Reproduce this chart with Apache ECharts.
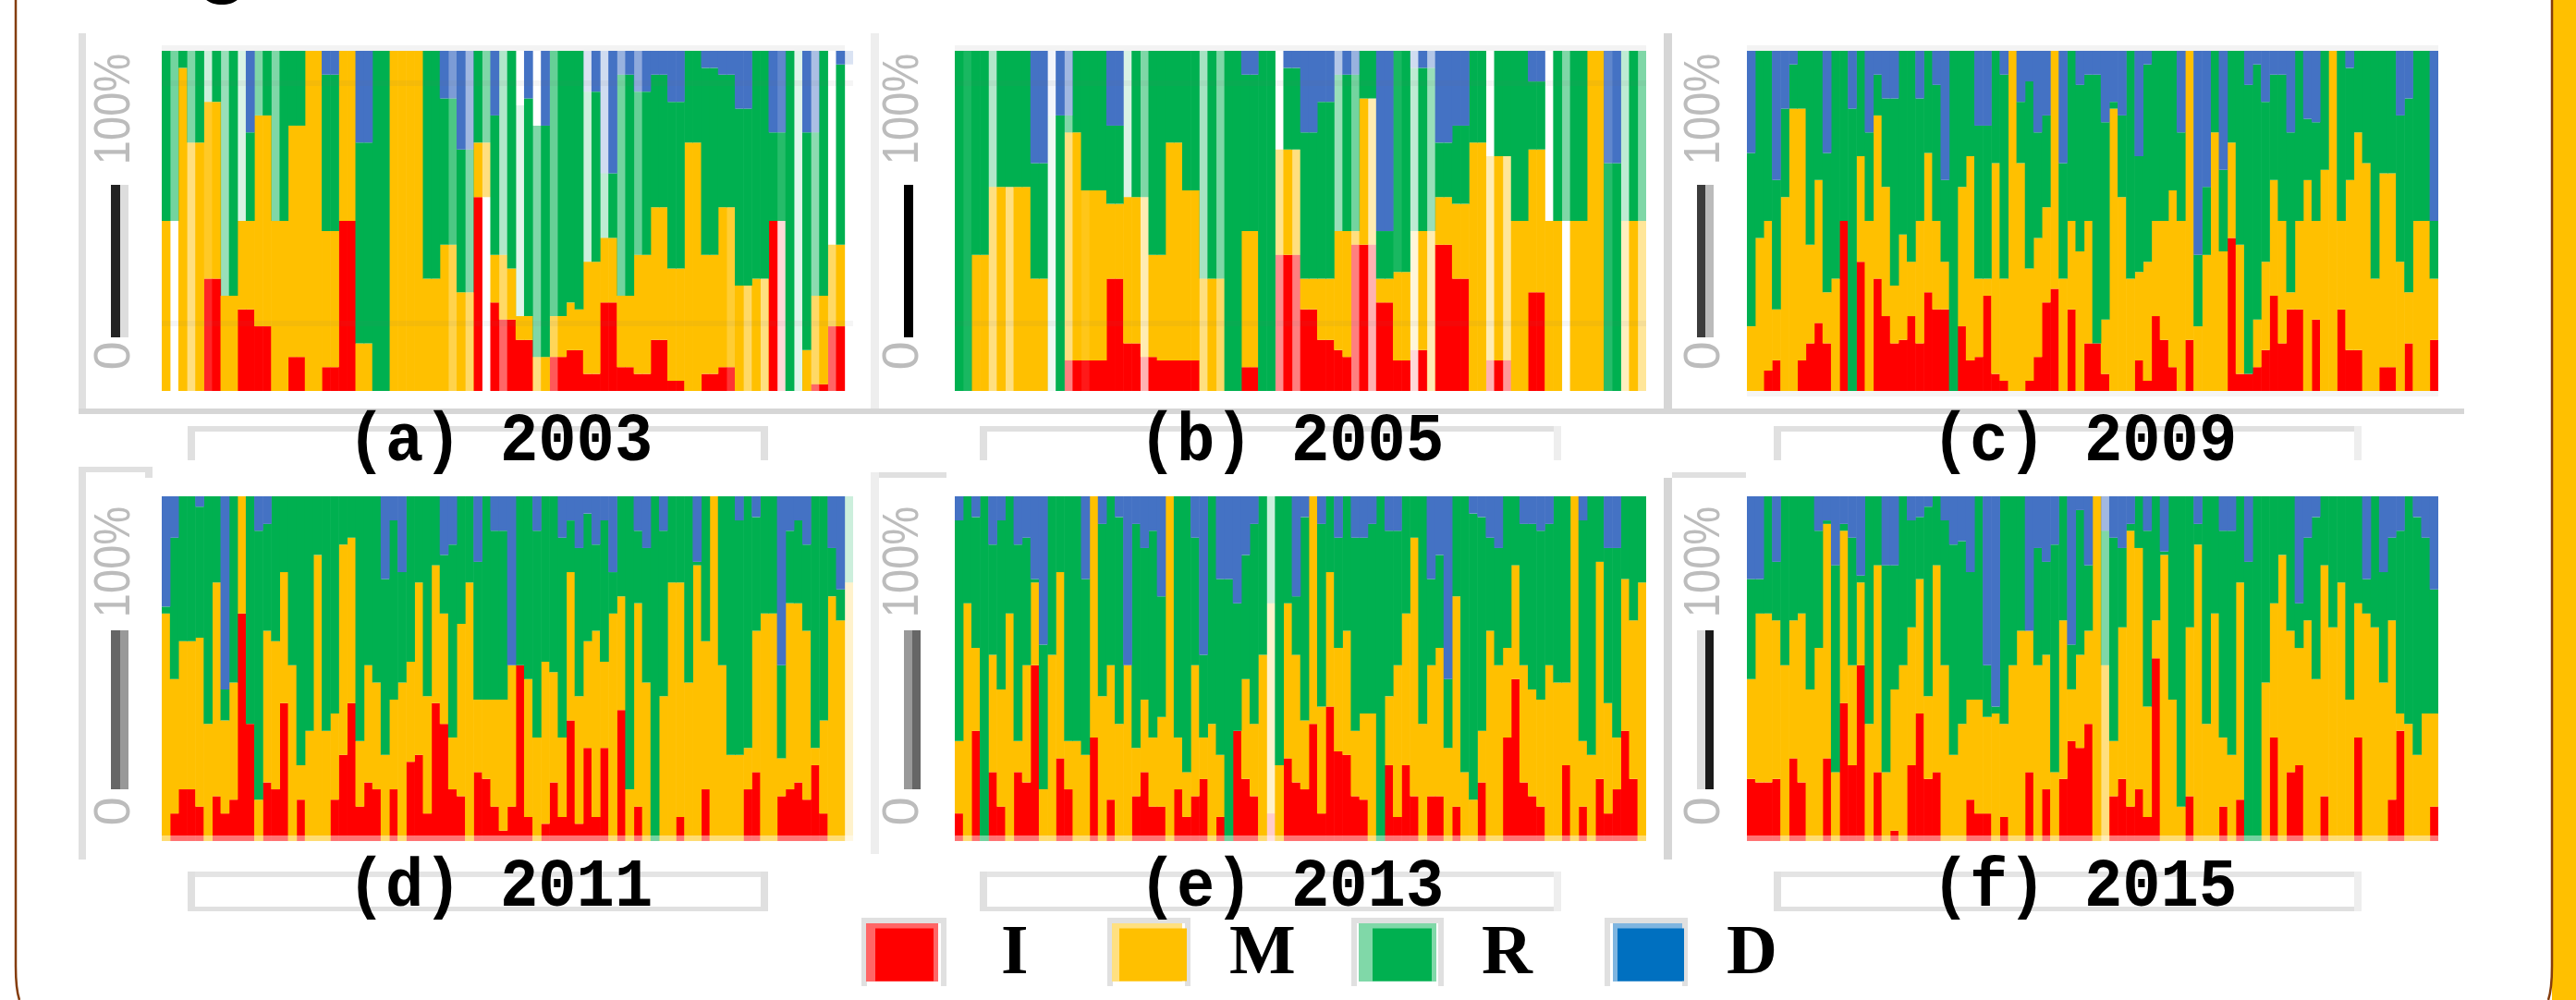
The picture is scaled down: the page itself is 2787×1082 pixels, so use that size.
<!DOCTYPE html>
<html><head><meta charset="utf-8">
<script src="https://cdn.jsdelivr.net/npm/echarts@6/dist/echarts.min.js"></script>
<style>html,body{margin:0;padding:0;background:#fff}#c{width:2787px;height:1082px}</style>
</head><body><div id="c"></div>
<script>
// Cumulative tops (percent) of the I, M and R layers per column; D fills the remainder.
const iTop2003=[0,0,0,0,0,33,33,0,0,24, 24,19,19,0,0,10,10,0,0,7, 7,50,50,0,0,0,0,0,0,0, 0,0,0,0,0,0,0,57,0,26, 21,21,15,15,0,0,10,10,12,12, 5,5,26,26,7,7,5,5,15,15, 3,3,0,0,5,5,7,7,0,0, 0,0,50,50,0,0,0,2,2,19, 19,0];
const mTop2003=[50,0,95,73,73,85,85,28,28,50, 50,81,81,50,50,78,78,100,100,47, 47,100,100,14,14,0,0,100,100,100, 100,33,33,43,43,29,29,73,73,40, 40,36,22,22,10,10,22,22,26,24, 38,38,45,45,28,28,40,40,54,54, 36,36,73,73,40,40,54,54,31,31, 33,33,50,50,0,0,12,28,28,43, 43,0];
const rTop2003=[100,100,100,100,100,100,100,100,100,100, 76,100,100,100,100,100,100,100,100,93, 93,100,100,73,73,100,100,100,100,100, 100,100,100,86,86,71,71,100,100,81, 100,100,84,86,78,78,100,100,100,100, 88,88,64,64,93,93,88,88,93,93, 85,85,100,100,95,95,93,93,83,83, 100,100,76,76,100,100,76,76,100,43, 96,0];
const iTop2005=[0,0,0,0,0,0,0,0,0,0, 0,0,0,9,9,9,9,9,33,33, 14,14,10,10,9,9,9,9,9,0, 0,0,0,0,7,7,0,0,40,40, 40,24,24,15,15,12,10,43,43,43, 26,26,9,9,12,12,0,43,43,33, 33,0,0,9,9,9,0,0,29,29, 0,0,0,0,0,0,0,0,0,0, 0,0];
const mTop2005=[0,0,40,40,60,60,60,60,60,33, 33,0,0,76,76,59,59,59,55,55, 57,57,57,40,40,73,73,59,59,33, 33,33,0,0,47,47,0,0,71,71, 71,33,33,33,33,47,47,47,86,86, 33,33,35,35,47,47,47,57,57,55, 55,73,73,69,69,69,50,50,71,71, 50,50,50,50,50,100,100,0,0,50, 50,50];
const rTop2005=[100,100,100,100,100,100,100,100,100,67, 67,81,81,81,100,100,100,100,78,78, 100,100,100,100,100,100,100,100,100,100, 100,100,100,100,93,93,100,100,71,95, 95,76,76,85,85,93,93,93,100,100, 47,47,100,100,95,95,95,73,73,78, 78,100,100,69,100,100,100,100,91,91, 50,100,100,100,100,100,100,67,67,100, 100,100];
const iTop2009=[0,0,6,9,0,0,9,14,20,14, 0,50,0,38,0,33,22,14,15,22, 14,29,24,24,0,19,9,10,28,5, 3,0,0,3,10,26,30,0,24,0, 14,14,5,0,0,0,9,3,22,15, 7,0,15,0,0,0,0,45,5,5, 7,12,28,14,24,24,0,21,0,0, 24,12,12,0,0,7,7,0,14,0, 0,15];
const mTop2009=[19,45,50,24,57,83,83,43,62,29, 33,50,0,69,50,81,60,31,46,38, 50,70,50,38,0,60,69,33,33,67, 33,100,67,36,45,54,100,33,50,41, 50,14,21,83,57,33,35,38,50,50, 59,50,100,19,40,76,41,73,43,5, 21,38,62,50,29,50,62,50,65,100, 50,62,76,67,33,64,64,38,29,50, 50,33];
const rTop2009=[70,100,100,62,83,96,100,100,100,70, 100,100,83,100,76,93,86,86,100,100, 86,100,90,62,100,100,100,78,78,100, 93,100,85,91,76,81,100,67,100,90, 93,93,79,85,81,100,69,96,100,100, 100,76,100,40,60,100,65,100,100,90, 96,85,93,93,76,100,80,79,100,100, 100,95,100,100,100,100,100,81,86,100, 100,50];
const iTop2011=[0,8,15,15,10,0,13,8,12,66, 34,0,17,15,40,0,12,0,0,0, 12,25,40,10,17,15,0,15,0,23, 25,8,40,34,15,13,0,20,18,10, 3,10,51,7,0,5,17,7,35,5, 27,7,27,0,38,0,10,0,0,0, 0,7,0,0,15,0,0,0,0,15, 20,0,0,13,15,17,12,22,8,0, 0,0];
const mTop2011=[66,47,58,58,59,34,75,35,46,100, 34,12,61,58,78,51,22,32,83,32, 37,86,88,29,51,46,25,41,46,52, 75,42,80,66,30,63,75,41,41,41, 41,51,51,47,30,52,49,30,78,42, 58,61,52,66,71,15,69,46,0,42, 75,75,46,80,58,100,51,25,25,27, 61,66,66,24,69,69,61,27,35,71, 64,75];
const rTop2011=[68,88,100,100,97,100,100,44,100,100, 100,90,92,100,100,100,100,100,100,100, 100,100,100,100,100,100,76,93,78,100, 100,100,100,83,86,100,100,81,100,90, 90,51,100,100,90,100,100,88,93,85, 95,86,93,78,100,100,90,85,100,90, 100,100,100,81,100,100,100,100,93,100, 94,100,100,51,90,93,86,100,100,85, 73,100];
const iTop2013=[8,0,32,0,20,10,0,20,17,51, 0,0,24,15,0,0,30,0,12,0, 0,13,20,10,10,0,15,7,13,18, 0,7,0,32,18,13,0,8,0,24, 17,15,34,8,39,26,25,13,12,0, 0,22,7,22,13,0,13,13,0,10, 0,0,17,0,0,30,47,17,13,10, 0,0,22,0,10,0,18,8,15,32, 18,0];
const mTop2013=[29,69,56,0,54,44,66,29,51,75, 15,54,78,29,29,25,100,42,51,34, 51,27,41,30,36,100,30,20,51,30, 34,25,0,32,47,34,54,69,22,69, 54,35,100,39,78,56,61,32,37,37, 0,42,51,66,88,34,51,56,27,71, 20,12,32,61,51,56,80,51,44,41, 51,46,46,100,29,25,81,40,30,76, 64,75];
const rTop2013=[93,100,94,100,86,93,100,86,88,76, 57,100,100,100,100,76,100,92,100,94, 51,92,85,90,71,100,100,100,88,54, 100,76,76,69,83,92,100,100,100,100, 71,94,100,92,100,88,100,88,88,92, 100,90,90,100,100,100,76,83,47,100, 100,95,94,88,85,100,100,92,92,90, 92,100,100,100,93,100,100,85,85,100, 100,100];
const iTop2015=[18,17,17,18,0,24,17,0,0,24, 0,40,22,51,0,20,0,3,0,22, 37,18,20,0,0,0,12,8,8,0, 7,0,0,20,0,15,0,18,29,27, 34,0,0,13,18,10,15,7,53,0, 0,0,13,0,0,0,10,0,12,0, 0,0,30,0,20,22,0,0,13,0, 0,0,30,0,0,0,12,32,0,0, 0,10];
const mTop2015=[47,66,66,64,51,64,66,44,56,92, 20,90,51,75,34,80,20,44,51,62, 76,42,80,51,25,34,41,41,36,37, 34,51,61,61,51,54,20,64,44,54, 61,100,51,29,62,90,85,39,64,83, 41,10,62,86,34,66,30,25,75,0, 0,46,69,83,61,56,64,47,80,62, 75,41,69,66,62,46,64,37,34,25, 37,37];
const rTop2015=[76,76,100,81,100,100,100,100,90,93, 80,92,88,77,100,100,80,80,100,93, 94,97,100,93,86,87,78,100,51,39, 100,100,100,61,85,81,86,100,57,96, 80,100,90,88,85,92,100,90,100,84, 100,100,100,92,100,100,90,90,100,81, 100,100,100,100,100,69,88,94,100,100, 100,100,100,76,100,78,88,90,100,94, 88,73];

// Columns with partial coverage in the source: share of empty space below / above, and coverage of the layers.
const floor2003={1:50,38:57,81:96}, floor2005={72:50};
const ceil2003={42:84,44:78,79:43}, ceil2005={38:71,63:69,70:50};
const upper2003={1:.55,3:.5,5:.2,7:.4,9:.15,11:.5,13:.5,34:.7,36:.5,38:.5,40:.3,42:.12,44:.5,46:.6,50:.2,52:.25,54:.55,56:.6,73:.85,75:.12,77:.45,81:.2};
const lower2003={3:.5,5:.85,34:.7,36:.6,38:.5,40:.6,44:.5,46:.65,67:.8,69:.6,71:.5,73:.15,77:.6,79:.6};
const upper2005={1:.9,4:.3,11:.07,13:.5,20:.15,22:.5,29:.35,31:.5,45:.4,47:.55,52:.9,54:.25,56:.4,70:.1,72:.5,77:.85,79:.25,81:.5};
const lower2005={4:.5,6:.5,13:.5,15:.9,22:.3,29:.5,31:.6,38:.45,40:.5,47:.5,49:.3,54:.15,56:.3,63:.3,65:.4,79:.25,81:.4};
const upper2011={81:.2},lower2011={81:.2},upper2013={37:.2},lower2013={37:.2},upper2015={42:.5},lower2015={42:.5};

const panelTitles=['(a) 2003','(b) 2005','(c) 2009','(d) 2011','(e) 2013','(f) 2015'];
const seriesNames=['I','M','R','D'];
const seriesColors=['#FF0000','#FFC000','#00B050','#4472C4'];
const legendColors=['#FF0000','#FFC000','#00B050','#0070C0'];
const yTickLabels=['100%','0'];

const panels=[
 {i:iTop2003,m:mTop2003,r:rTop2003,floor:floor2003,ceil:ceil2003,up:upper2003,lo:lower2003},
 {i:iTop2005,m:mTop2005,r:rTop2005,floor:floor2005,ceil:ceil2005,up:upper2005,lo:lower2005},
 {i:iTop2009,m:mTop2009,r:rTop2009},
 {i:iTop2011,m:mTop2011,r:rTop2011,up:upper2011,lo:lower2011},
 {i:iTop2013,m:mTop2013,r:rTop2013,up:upper2013,lo:lower2013},
 {i:iTop2015,m:mTop2015,r:rTop2015,up:upper2015,lo:lower2015}
];
const gridLeft=[175,1033,1890], rowTop=[55,537], rowH=[368,373], gridW=748;

const grids=[],xAxes=[],yAxes=[],series=[];
panels.forEach((p,k)=>{
  const row=k<3?0:1;
  grids.push({left:gridLeft[k%3],top:rowTop[row],width:gridW,height:rowH[row]});
  xAxes.push({type:'category',gridIndex:k,show:false,data:p.i.map((_,n)=>n+1)});
  yAxes.push({type:'value',gridIndex:k,show:false,min:0,max:100,interval:100});
  const fl=p.floor||{},ce=p.ceil||{},up=p.up||{},lo=p.lo||{};
  const layer=(fn,map)=>p.i.map((_,n)=>{
    const f=fl[n]||0,v=Math.max(0,fn(n,f));
    return map[n]===undefined?v:{value:v,itemStyle:{opacity:map[n]}};
  });
  const blank=p.i.map((_,n)=>fl[n]||0);
  const add=(name,data,color)=>series.push({name,type:'bar',stack:'s'+k,xAxisIndex:k,yAxisIndex:k,data,barWidth:9.7,
    silent:true,itemStyle:{color,borderWidth:0},animation:false});
  add('blank',blank,'rgba(0,0,0,0)');
  add('I',layer((n,f)=>p.i[n]-f,lo),seriesColors[0]);
  add('M',layer((n,f)=>p.m[n]-Math.max(p.i[n],f),lo),seriesColors[1]);
  add('R',layer((n,f)=>p.r[n]-Math.max(p.m[n],f),up),seriesColors[2]);
  add('D',layer((n,f)=>(ce[n]||100)-Math.max(p.r[n],f),up),seriesColors[3]);
});

const legendLeft=[942,1206,1480,1745],legendPad=[68,41,49,41],legendW=[63,73,64,72];
const legends=seriesNames.map((n,k)=>({left:legendLeft[k],top:990,orient:'horizontal',itemWidth:legendW[k],itemHeight:57,
  selectedMode:false,data:[{name:n,icon:'rect',itemStyle:{color:legendColors[k]}}],
  textStyle:{fontFamily:'Liberation Serif',fontWeight:'bold',fontSize:76,color:'#000',padding:[0,0,0,legendPad[k]]}}));

const G=[];
const rect=(x0,y0,x1,y1,fill,z)=>G.push({type:'rect',z:z||1,silent:true,shape:{x:x0,y:y0,width:x1-x0,height:y1-y0},style:{fill}});
const axisGrey='#d6d6d6',pale='#e0e0e0';
// frames
rect(85,36,93,448,pale);rect(942,36,951,448,'#eeeeee');rect(1800,36,1809,448,axisGrey);rect(85,442,2666,448,axisGrey);
rect(85,505,93,930,pale);rect(85,505,165,511,pale);rect(157,505,165,517,pale);
rect(942,511,951,924,'#eeeeee');rect(951,511,1024,517,pale);
rect(1800,517,1809,930,axisGrey);rect(1809,511,1889,517,pale);
// caption boxes
const boxL=[203,1060,1919],boxR=[831,1689,2555];
for(let c=0;c<3;c++){
  rect(boxL[c],461,boxR[c],467,pale);rect(boxL[c],461,boxL[c]+8,498,pale);rect(boxR[c]-8,461,boxR[c],498,c==0?pale:'#eeeeee');
  rect(boxL[c],943,boxR[c],949,'#e4e4e4');rect(boxL[c],981,boxR[c],986,pale);rect(boxL[c],943,boxL[c]+8,986,pale);rect(boxR[c]-8,943,boxR[c],986,c==0?pale:'#eeeeee');
}
// plot edge strips
for(let c=0;c<3;c++){
  rect(gridLeft[c],49,gridLeft[c]+(c==0?739:748),55,'#f3f3f3');
  rect(gridLeft[c],904,gridLeft[c]+gridW,910,'rgba(255,255,255,0.45)',12);
}
rect(1890,423,2638,429,'#f5f5f5');
[0,1].forEach(c=>{rect(gridLeft[c],87,gridLeft[c]+748,93,'rgba(120,120,120,0.07)',12);rect(gridLeft[c],347,gridLeft[c]+748,353,'rgba(120,120,120,0.07)',12);});
// rotated y labels and bars
const tickX=[125,978,1845];
const barDefs=[[120,130,'#222222',130,139,'#dddddd'],[978,988,'#000000',988,989,'#ffffff'],[1836,1845,'#3c3c3c',1845,1854,'#bbbbbb'],
 [120,130,'#666666',130,139,'#999999'],[978,987,'#999999',987,996,'#666666'],[1836,1845,'#dddddd',1845,1854,'#1a1a1a']];
const txtY=[[118,385],[608,878]],barY=[[200,365],[682,854]];
for(let k=0;k<6;k++){
  const row=k<3?0:1,x=tickX[k%3];
  yTickLabels.forEach((t,j)=>G.push({type:'text',z:3,silent:true,x,y:txtY[row][j],rotation:Math.PI/2,scaleX:t.length>1?.84:1,
    style:{text:t,fill:'#bcbcbc',font:'56px "Liberation Sans"',align:'center',verticalAlign:'middle'}}));
  const b=barDefs[k];
  rect(b[0],barY[row][0],b[1],barY[row][1],b[2],3);rect(b[3],barY[row][0],b[4],barY[row][1],b[5],3);
  const cx=[541,1397,2255][k%3],cy=row?961:479;
  G.push({type:'text',z:5,silent:true,x:cx,y:cy,scaleX:.93,style:{text:panelTitles[k],fill:'#000',font:'bold 74px "Liberation Mono"',align:'center',verticalAlign:'middle'}});
}
// legend frames
const lf=[[932,1024,'#ff6666',937,1015],[1198,1288,'#ffe080',1203,1279],[1462,1562,'#80d8a8',1470,1554],[1736,1826,'#7fb5e0',1745,1820]];
lf.forEach(f=>{
  rect(f[0],993,f[1],999,pale);rect(f[0],993,f[0]+6,1067,pale);rect(f[1]-6,993,f[1],1067,pale);
  rect(f[3],999,f[4],1062,f[2]);
});
// page decoration
G.push({type:'ellipse',z:3,silent:true,shape:{cx:240,cy:-6,rx:20,ry:11},style:{fill:'#000'}});
rect(2761,0,2787,1082,'#FFC000');
const brown={stroke:'#843C0C',lineWidth:2.5,fill:'none'};
G.push({type:'line',z:4,silent:true,shape:{x1:17,y1:0,x2:17,y2:1045},style:brown});
G.push({type:'bezierCurve',z:4,silent:true,shape:{x1:17,y1:1045,cpx1:17,cpy1:1070,x2:21,y2:1082},style:brown});
G.push({type:'line',z:4,silent:true,shape:{x1:2761,y1:0,x2:2761,y2:1045},style:brown});
G.push({type:'bezierCurve',z:4,silent:true,shape:{x1:2761,y1:1045,cpx1:2761,cpy1:1070,x2:2757,y2:1082},style:brown});

const chart=echarts.init(document.getElementById('c'),null,{renderer:'canvas'});
chart.setOption({animation:false,backgroundColor:'#fff',grid:grids,xAxis:xAxes,yAxis:yAxes,series,legend:legends,graphic:{elements:G}});
</script></body></html>
